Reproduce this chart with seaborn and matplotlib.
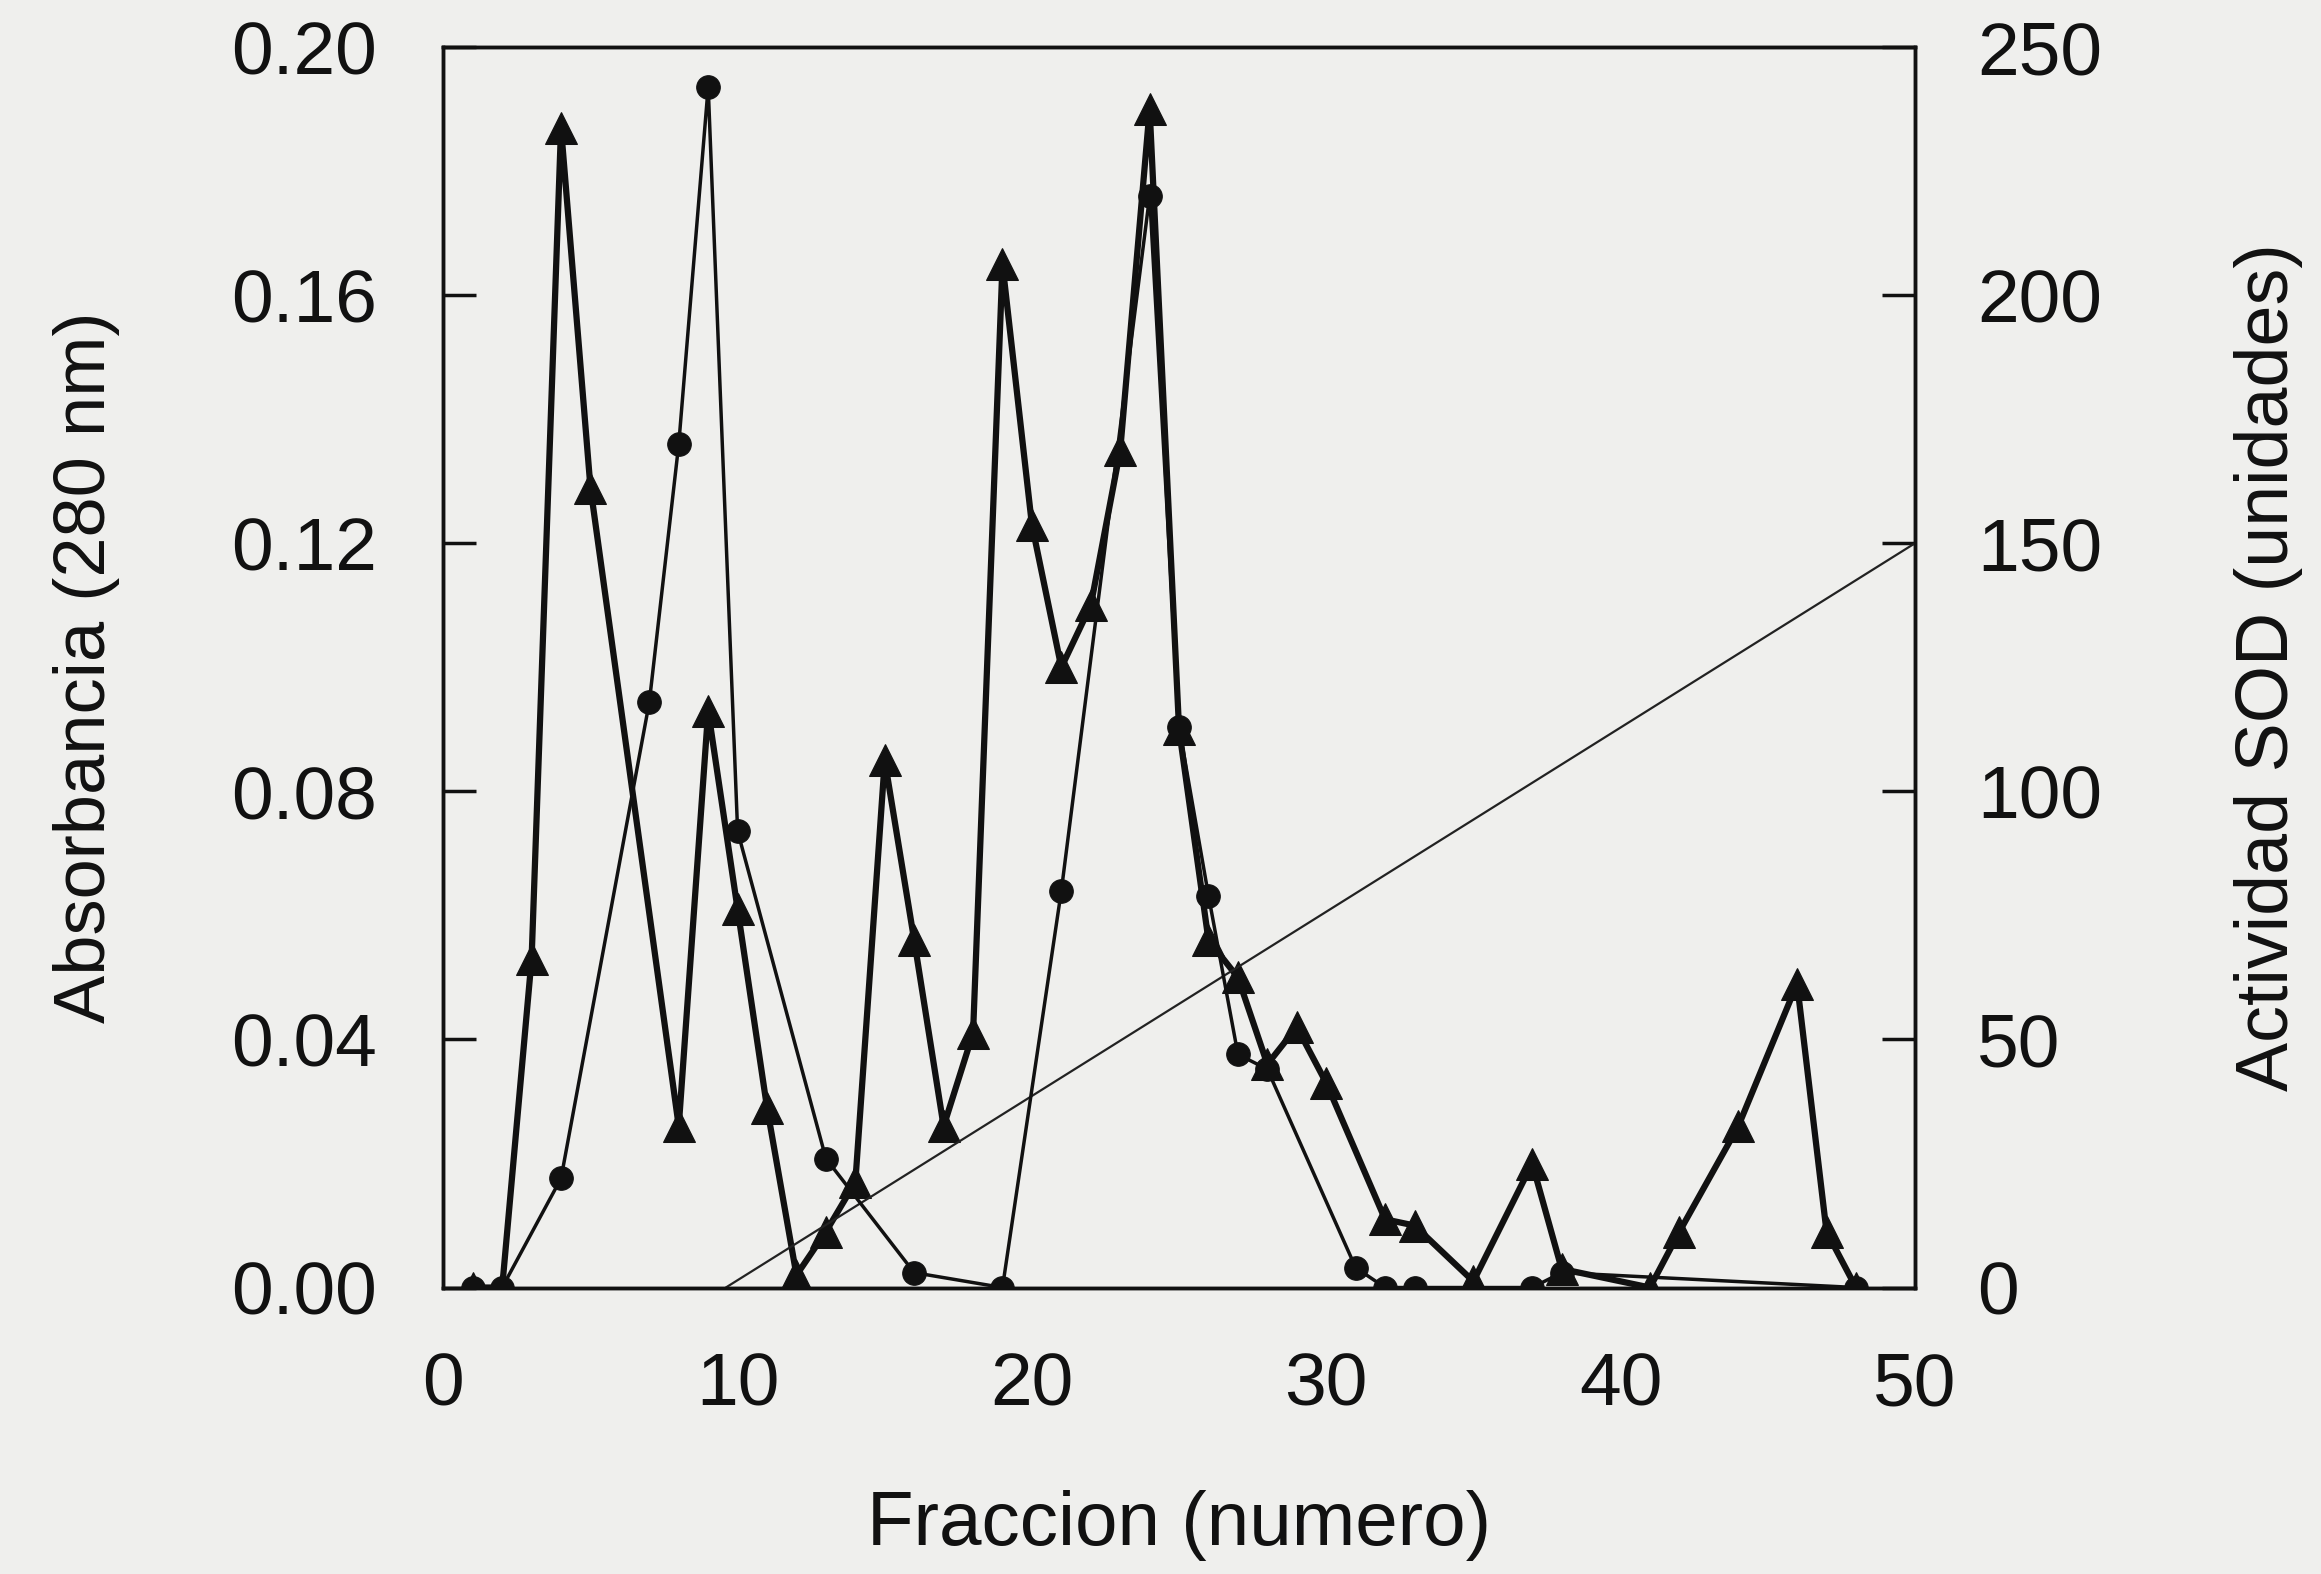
import matplotlib
matplotlib.use("Agg")
import matplotlib.pyplot as plt
import seaborn as sns
import pandas as pd

# Absorbance (280 nm) - triangles
tri_x = [1, 2, 3, 4, 5, 8, 9, 10, 11, 12, 13, 14, 15, 16, 17, 18, 19, 20, 21, 22, 23, 24,
         25, 26, 27, 28, 29, 30, 32, 33, 35, 37, 38, 41, 42, 44, 46, 47, 48]
tri_y = [0.0, 0.0, 0.053, 0.187, 0.129, 0.026, 0.093, 0.061, 0.029, 0.002, 0.009, 0.017,
         0.085, 0.056, 0.026, 0.041, 0.165, 0.123, 0.100, 0.110, 0.135, 0.190,
         0.090, 0.056, 0.050, 0.036, 0.042, 0.033, 0.011, 0.010, 0.001, 0.020, 0.003,
         0.0, 0.009, 0.026, 0.049, 0.009, 0.0]

# SOD activity (units) - circles
cir_x = [1, 2, 4, 7, 8, 9, 10, 13, 16, 19, 21, 24, 25, 26, 27, 28, 31, 32, 33, 37, 38, 48]
cir_y = [0, 0, 22, 118, 170, 242, 92, 26, 3, 0, 80, 220, 113, 79, 47, 44, 4, 0, 0, 0, 3, 0]

# Gradient line (right-axis units)
grad_x = [9.6, 50]
grad_y = [0, 150]

x_ticks = [0, 10, 20, 30, 40, 50]
left_ticks = [0.00, 0.04, 0.08, 0.12, 0.16, 0.20]
left_labels = ["0.00", "0.04", "0.08", "0.12", "0.16", "0.20"]
right_ticks = [0, 50, 100, 150, 200, 250]

sns.set_theme(style="white")
plt.rcParams['font.family'] = ['Liberation Sans', 'DejaVu Sans']
bg = "#efefed"
ink = "#111111"

fig = plt.figure(figsize=(23.21, 15.74), dpi=100, facecolor=bg)
ax = fig.add_axes([0.191, 0.182, 0.634, 0.788])
ax.set_facecolor(bg)
ax2 = ax.twinx()

tri = pd.DataFrame({"x": tri_x, "y": tri_y})
cir = pd.DataFrame({"x": cir_x, "y": cir_y})
grad = pd.DataFrame({"x": grad_x, "y": grad_y})

sns.lineplot(data=tri, x="x", y="y", ax=ax, color=ink, linewidth=4.5,
             marker="^", markersize=23, markeredgecolor=ink, zorder=3)
sns.lineplot(data=cir, x="x", y="y", ax=ax2, color=ink, linewidth=2.5,
             marker="o", markersize=17, markeredgecolor=ink, zorder=3)
sns.lineplot(data=grad, x="x", y="y", ax=ax2, color="#222222", linewidth=1.6)

ax.set_xlim(0, 50)
ax.set_ylim(0, 0.20)
ax2.set_ylim(0, 250)
ax.set_xticks(x_ticks)
ax.set_yticks(left_ticks)
ax.set_yticklabels(left_labels)
ax2.set_yticks(right_ticks)

for a in (ax, ax2):
    for s in a.spines.values():
        s.set_color(ink)
        s.set_linewidth(2.5)
        s.set_visible(True)

ax.tick_params(axis="x", length=0, pad=46, labelsize=54, colors=ink)
ax.tick_params(axis="y", direction="in", length=24, width=2.5, pad=48, labelsize=54, colors=ink)
ax2.tick_params(axis="y", direction="in", length=24, width=2.5, pad=45, labelsize=54, colors=ink)
ax2.grid(False)
ax.grid(False)

ax.set_xlabel("Fraccion (numero)", fontsize=55, labelpad=50, color=ink)
ax.set_ylabel("Absorbancia (280 nm)", fontsize=52, labelpad=80, color=ink)
ax2.set_ylabel("Actividad SOD (unidades)", fontsize=53, labelpad=95, color=ink)

fig.savefig("out.png", dpi=100, facecolor=bg)
